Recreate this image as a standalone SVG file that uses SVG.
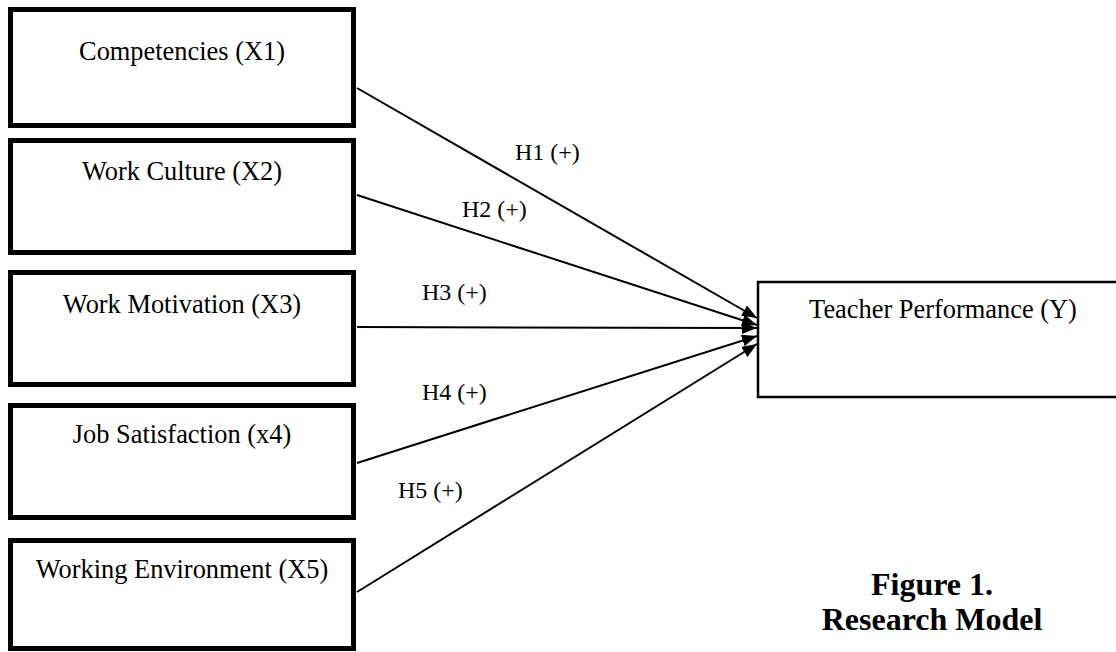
<svg xmlns="http://www.w3.org/2000/svg" width="1116" height="652" viewBox="0 0 1116 652">
<style>
.box{fill:#fff;stroke:#000;stroke-width:5}
.ybox{fill:#fff;stroke:#000;stroke-width:2.5}
.t{font-family:"Liberation Serif","Times New Roman",serif;font-size:26.4px;fill:#000;text-anchor:middle}
.h{font-family:"Liberation Serif","Times New Roman",serif;font-size:24px;fill:#000}
.cap{font-family:"Liberation Serif","Times New Roman",serif;font-size:32px;font-weight:bold;fill:#000;text-anchor:middle}
.c{stroke:#000;stroke-width:2;fill:none;marker-end:url(#ah)}
</style>
<defs>
<marker id="ah" markerUnits="userSpaceOnUse" markerWidth="16" markerHeight="12" refX="15" refY="6" orient="auto">
<path d="M0,0 L15,6 L0,12 Z" fill="#000"/>
</marker>
</defs>
<rect width="1116" height="652" fill="#fff"/>
<g id="connectors">
<line class="c" x1="357" y1="88" x2="757" y2="318"/>
<line class="c" x1="357" y1="195" x2="757" y2="325"/>
<line class="c" x1="357" y1="327" x2="757" y2="328"/>
<line class="c" x1="357" y1="463" x2="757" y2="336"/>
<line class="c" x1="357" y1="592" x2="757" y2="344"/>
<text class="h" x="515" y="160">H1 (+)</text>
<text class="h" x="462" y="217">H2 (+)</text>
<text class="h" x="422" y="300">H3 (+)</text>
<text class="h" x="422" y="400">H4 (+)</text>
<text class="h" x="398" y="498">H5 (+)</text>
</g>
<g id="x1">
<rect class="box" x="10.5" y="9.5" width="343" height="116"/>
<text class="t" x="182" y="60">Competencies (X1)</text>
</g>
<g id="x2">
<rect class="box" x="10.5" y="140.5" width="343" height="112"/>
<text class="t" x="182" y="180">Work Culture (X2)</text>
</g>
<g id="x3">
<rect class="box" x="10.5" y="272.5" width="343" height="112"/>
<text class="t" x="182" y="313">Work Motivation (X3)</text>
</g>
<g id="x4">
<rect class="box" x="10.5" y="405.5" width="343" height="112"/>
<text class="t" x="182" y="443">Job Satisfaction (x4)</text>
</g>
<g id="x5">
<rect class="box" x="10.5" y="540.5" width="343" height="108"/>
<text class="t" x="182" y="578">Working Environment (X5)</text>
</g>
<g id="y">
<rect class="ybox" x="758" y="282" width="370" height="115"/>
<text class="t" x="943" y="318">Teacher Performance (Y)</text>
</g>
<g id="caption">
<text class="cap" x="932" y="595">Figure 1.</text>
<text class="cap" x="932" y="630">Research Model</text>
</g>
</svg>
